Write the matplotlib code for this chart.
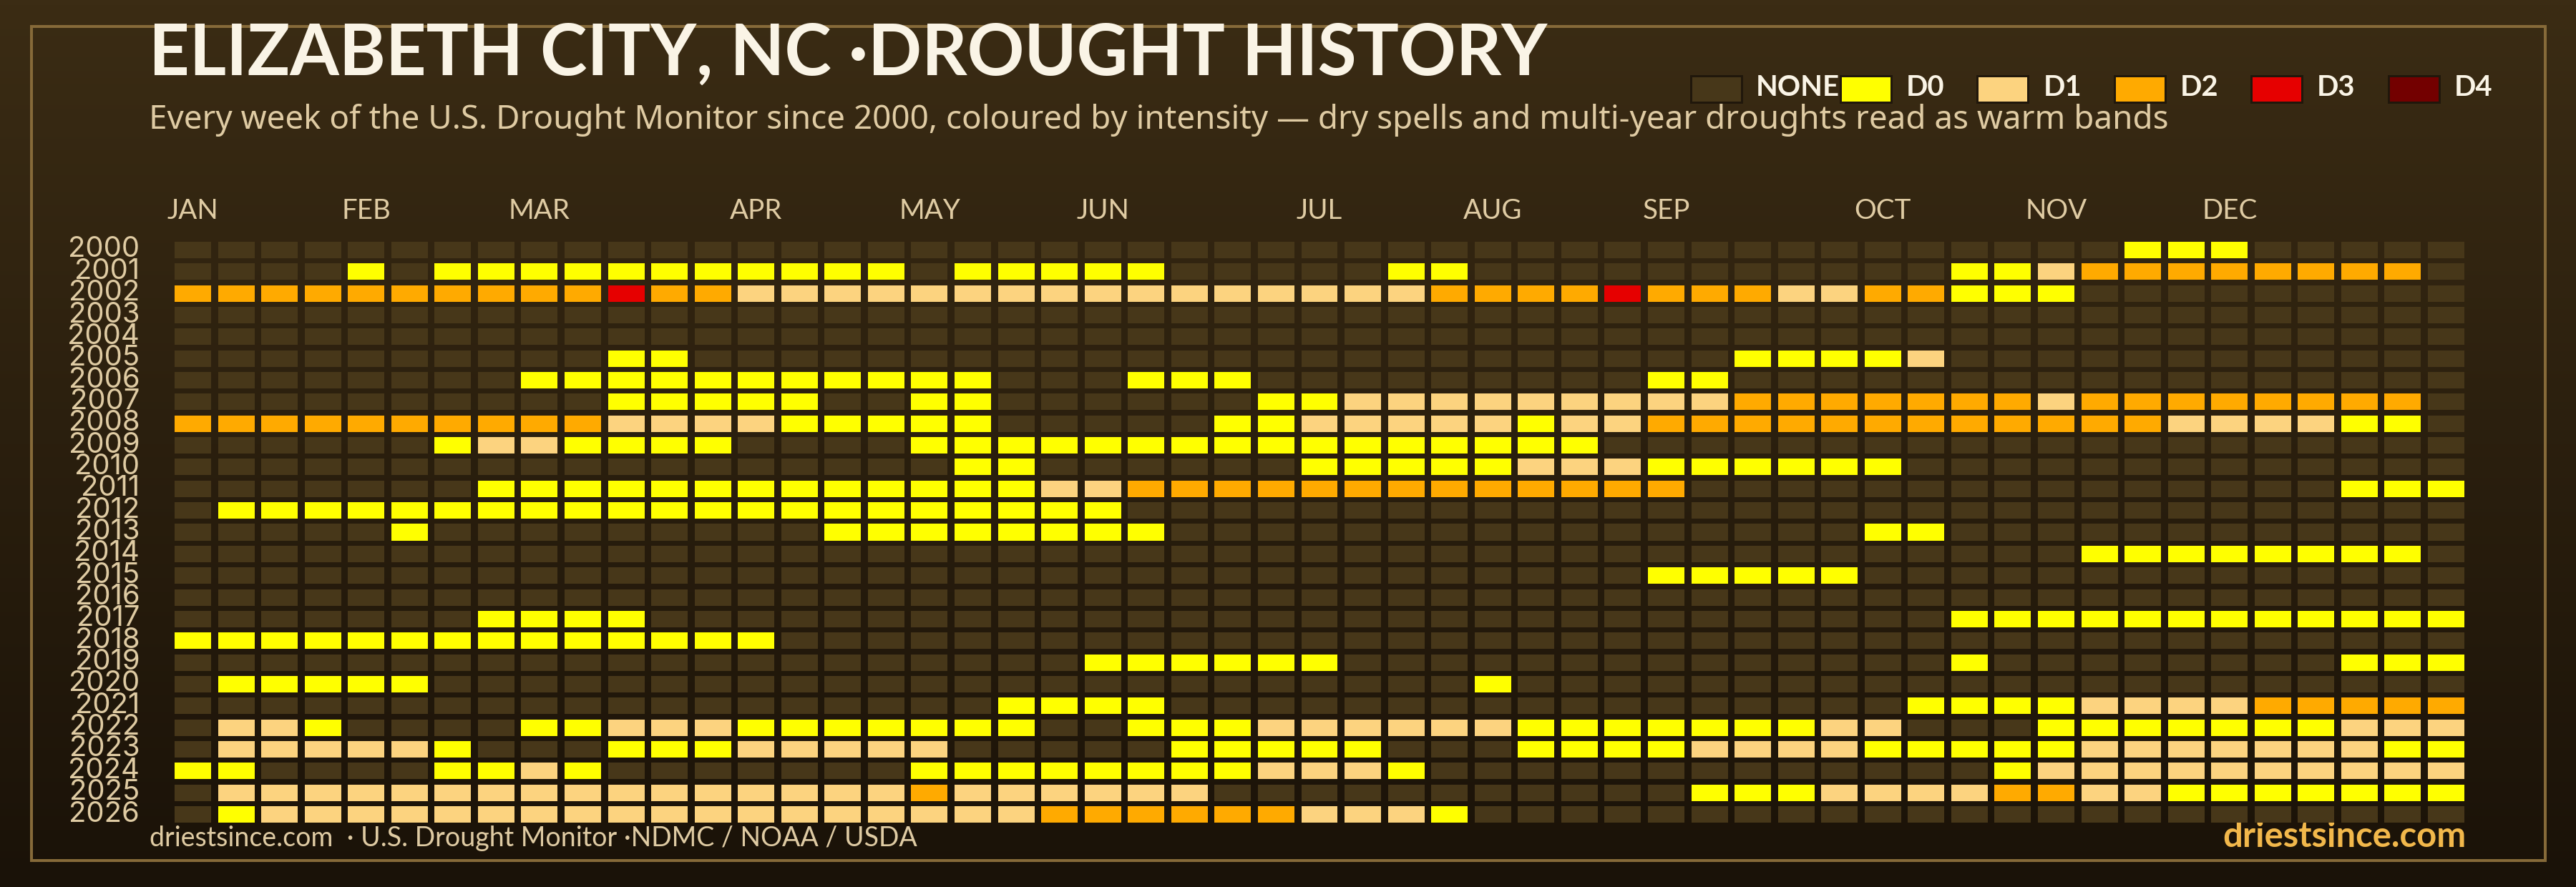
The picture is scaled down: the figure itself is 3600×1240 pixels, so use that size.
import numpy as np
import matplotlib
matplotlib.use("Agg")
import matplotlib.pyplot as plt
from matplotlib.colors import LinearSegmentedColormap
from matplotlib.patches import Rectangle
from matplotlib.transforms import ScaledTranslation

# --- DATA ---
years = list(range(2000, 2027))
month_names = ["JAN", "FEB", "MAR", "APR", "MAY", "JUN", "JUL", "AUG", "SEP", "OCT", "NOV", "DEC"]
month_weeks = [0, 4, 8, 13, 17, 21, 26, 30, 34, 39, 43, 47]
level_names = ["NONE", "D0", "D1", "D2", "D3", "D4"]
level_colors = ["#473719", "#ffff00", "#fcd37f", "#ffaa00", "#e60000", "#730000"]

# one string per year, one digit per week (0 = none, 1 = D0 ... 5 = D4), grouped in tens
weeks_by_year = [
    "0000000000 0000000000 0000000000 0000000000 0000011100 000",  # 2000
    "0000101111 1111111011 1110000011 0000000000 0112333333 330",  # 2001
    "3333333333 4332222222 2222222223 3334333223 3111000000 000",  # 2002
    "0000000000 0000000000 0000000000 0000000000 0000000000 000",  # 2003
    "0000000000 0000000000 0000000000 0000000000 0000000000 000",  # 2004
    "0000000000 1100000000 0000000000 0000001111 2000000000 000",  # 2005
    "0000000011 1111111110 0011100000 0000110000 0000000000 000",  # 2006
    "0000000000 1111100110 0000011222 2222223333 3332333333 330",  # 2007
    "3333333333 2222111110 0000112222 2122333333 3333332222 110",  # 2008
    "0000001221 1110000111 1111111111 1110000000 0000000000 000",  # 2009
    "0000000000 0000000011 0000001111 1222111111 0000000000 000",  # 2010
    "0000000111 1111111111 2233333333 3333300000 0000000000 111",  # 2011
    "0111111111 1111111111 1100000000 0000000000 0000000000 000",  # 2012
    "0000010000 0000011111 1110000000 0000000001 1000000000 000",  # 2013
    "0000000000 0000000000 0000000000 0000000000 0000111111 110",  # 2014
    "0000000000 0000000000 0000000000 0000111110 0000000000 000",  # 2015
    "0000000000 0000000000 0000000000 0000000000 0000000000 000",  # 2016
    "0000000111 1000000000 0000000000 0000000000 0111111111 111",  # 2017
    "1111111111 1111000000 0000000000 0000000000 0000000000 000",  # 2018
    "0000000000 0000000000 0111111000 0000000000 0100000000 111",  # 2019
    "0111110000 0000000000 0000000000 1000000000 0000000000 000",  # 2020
    "0000000000 0000000001 1110000000 0000000000 1111222233 333",  # 2021
    "0221000011 2221111111 0011122222 2111111122 0001111111 222",  # 2022
    "0222221000 1112222200 0001111100 0111122221 1111222222 211",  # 2023
    "1100001121 0000000111 1111122210 0000000000 0012222222 222",  # 2024
    "0222222222 2222222322 2222000000 0000011122 2233221111 111",  # 2025
    "0122222222 2222222222 3333332221 0000000000 0000000000 000",  # 2026
]

title = "ELIZABETH CITY, NC \u00b7DROUGHT HISTORY"
subtitle = ("Every week of the U.S. Drought Monitor since 2000, coloured by intensity \u2014 "
            "dry spells and multi-year droughts read as warm bands")
source = "driestsince.com  \u00b7 U.S. Drought Monitor \u00b7NDMC / NOAA / USDA"
wordmark = "driestsince.com"

# --- STYLE ---
WIDTH, HEIGHT = 3600, 1240
DPI = 100
PX = 72 / DPI  # one pixel in points
plt.rcParams["font.family"] = ["Lato", "DejaVu Sans"]

CREAM = "#faf4e6"
TAN = "#dfcba3"
GOLD = "#866a39"

fig = plt.figure(figsize=(WIDTH / DPI, HEIGHT / DPI), dpi=DPI)

# --- BACKGROUND AND FRAME (drawn in pixel coordinates) ---
bg = fig.add_axes([0, 0, 1, 1])
bg_cmap = LinearSegmentedColormap.from_list("bg", ["#3b2c14", "#1a1208"])
bg.imshow(np.linspace(0, 1, 256).reshape(-1, 1), cmap=bg_cmap, aspect="auto",
          extent=[0, WIDTH, HEIGHT, 0], interpolation="bilinear")
bg.set_xlim(0, WIDTH)
bg.set_ylim(HEIGHT, 0)
bg.axis("off")
bg.add_patch(Rectangle((43.5, 37), 3513.5, 1166, fill=False, edgecolor=GOLD, linewidth=4 * PX))

# --- HEADER ---
bg.text(208, 105, title, color=CREAM, fontsize=98.7 * PX, fontweight="bold", va="baseline")
bg.text(208, 180, subtitle, color=TAN, family="Noto Sans", fontweight="medium", fontsize=45.8 * PX, va="baseline")

# --- LEGEND ---
swatch_x = [2361, 2570, 2761, 2953, 3144, 3336]
label_x = [2454, 2664, 2856, 3047, 3238, 3430]
for name, color, sx, lx in zip(level_names, level_colors, swatch_x, label_x):
    bg.add_patch(Rectangle((sx + 1.5, 105.5), 71, 37, facecolor=color, edgecolor="#20170b", linewidth=3 * PX))
    bg.text(lx, 134, name, color=CREAM, fontsize=40 * PX, fontweight="bold", va="baseline")

# --- FOOTER ---
bg.text(209, 1183, source, color=TAN, fontsize=37.5 * PX, va="baseline")
bg.text(3446, 1184, wordmark, color="#f2b84b", fontsize=49 * PX, fontweight="bold", ha="right", va="baseline")

# --- HEATMAP ---
ax = fig.add_axes([239.2 / WIDTH, 1 - 1153.7 / HEIGHT, (3448.8 - 239.2) / WIDTH, (1153.7 - 334.3) / HEIGHT])
ax.patch.set_alpha(0)
for row, weeks in enumerate(weeks_by_year):
    levels = [int(c) for c in weeks.replace(" ", "")]
    ax.bar(range(len(levels)), 0.76, bottom=row - 0.38, width=0.842,
           color=[level_colors[v] for v in levels], linewidth=0)
ax.set_xlim(-0.5, 52.5)
ax.set_ylim(26.5, -0.5)
for side in ax.spines.values():
    side.set_visible(False)

ax.set_yticks(range(len(years)), [str(y) for y in years], fontsize=40 * PX, color=TAN, family="Inter")
ax.tick_params(axis="y", length=0, pad=44 * PX)
up = ScaledTranslation(0, 4.5 / DPI, fig.dpi_scale_trans)
for label in ax.get_yticklabels():
    label.set_transform(label.get_transform() + up)

ax.xaxis.tick_top()
ax.set_xticks(month_weeks, month_names, fontsize=38.5 * PX, color=TAN)
ax.tick_params(axis="x", length=0, pad=21 * PX)

fig.savefig("out.png", dpi=DPI)
